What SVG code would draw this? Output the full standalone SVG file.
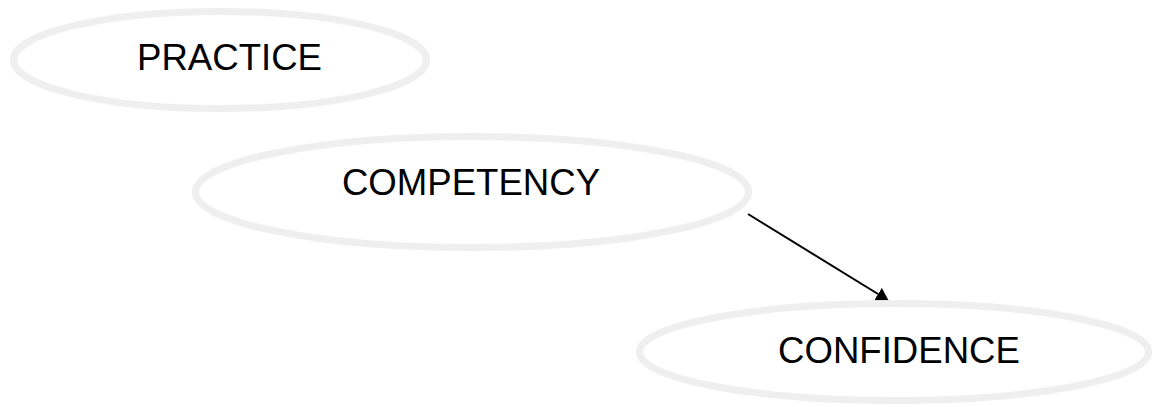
<svg xmlns="http://www.w3.org/2000/svg" width="1154" height="407" viewBox="0 0 1154 407">
  <style>
    .node ellipse { fill: #ffffff; stroke: #efefef; stroke-width: 7; }
    .node text { font-family: "Liberation Sans", Arial, sans-serif; font-size: 36.6px; fill: #000000; text-anchor: middle; }
    .edge { stroke: #000000; stroke-width: 2; fill: none; }
  </style>
  <defs>
    <marker id="arrow" markerUnits="userSpaceOnUse" markerWidth="14" markerHeight="16" refX="0" refY="7.2" orient="auto" viewBox="0 0 14 16">
      <path d="M0,0 L12.5,7.2 L0,14.4 Z" fill="#000000"/>
    </marker>
  </defs>
  <rect width="1154" height="407" fill="#ffffff"/>

  <!-- connectors -->
  <g id="connectors">
    <line class="edge" x1="748" y1="214" x2="878" y2="294" marker-end="url(#arrow)"/>
  </g>

  <!-- nodes -->
  <g id="practice" class="node">
    <ellipse cx="220" cy="60" rx="206.5" ry="48.5"/>
    <text x="229.5" y="70">PRACTICE</text>
  </g>
  <g id="competency" class="node">
    <ellipse cx="472" cy="192" rx="276.5" ry="55.5"/>
    <text x="471" y="195">COMPETENCY</text>
  </g>
  <g id="confidence" class="node">
    <ellipse cx="894" cy="352" rx="254.5" ry="48.5"/>
    <text x="899" y="363">CONFIDENCE</text>
  </g>
</svg>
